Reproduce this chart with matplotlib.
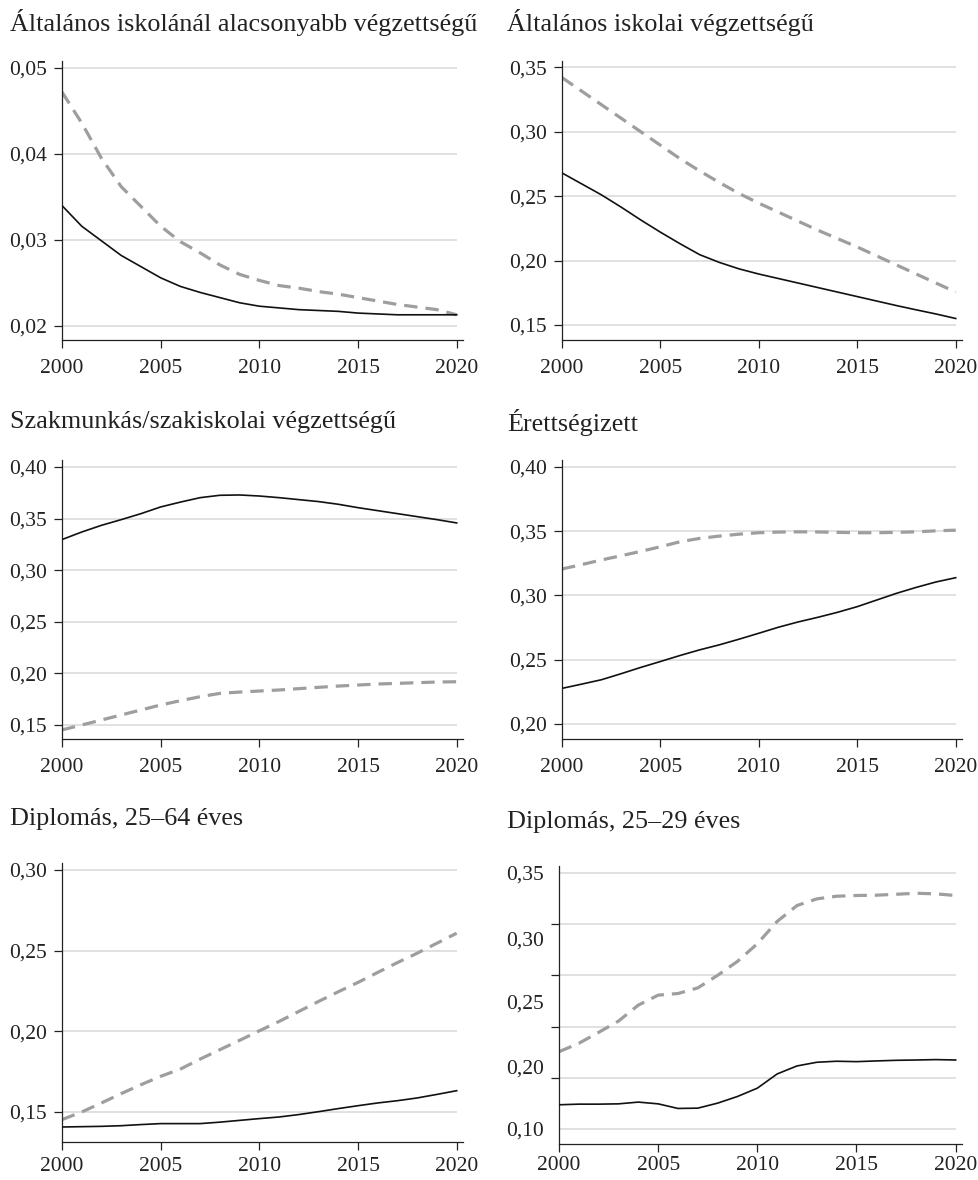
import matplotlib
matplotlib.use("Agg")
import matplotlib.pyplot as plt

plt.rcParams["font.family"] = ["Liberation Serif", "DejaVu Serif"]

years = list(range(2000, 2021))

titles = [
    "Általános iskolánál alacsonyabb végzettségű",
    "Általános iskolai végzettségű",
    "Szakmunkás/szakiskolai végzettségű",
    "Érettségizett",
    "Diplomás, 25–64 éves",
    "Diplomás, 25–29 éves",
]

# solid black series
solid_1 = [0.0340, 0.0316, 0.0299, 0.0282, 0.0269, 0.0256, 0.0246, 0.0239, 0.0233, 0.0227, 0.0223,
           0.0221, 0.0219, 0.0218, 0.0217, 0.0215, 0.0214, 0.0213, 0.0213, 0.0213, 0.0213]
solid_2 = [0.268, 0.2595, 0.251, 0.2415, 0.2315, 0.222, 0.213, 0.2045, 0.1985, 0.1935, 0.1895,
           0.186, 0.1825, 0.179, 0.1755, 0.172, 0.1685, 0.165, 0.1617, 0.1585, 0.155]
solid_3 = [0.3297, 0.337, 0.3435, 0.349, 0.3548, 0.3613, 0.366, 0.3703, 0.3726, 0.3729, 0.3719,
           0.3703, 0.3684, 0.3665, 0.3639, 0.3606, 0.3577, 0.3548, 0.3519, 0.349, 0.3458]
solid_4 = [0.2277, 0.231, 0.2344, 0.2391, 0.244, 0.2486, 0.2533, 0.2577, 0.2616, 0.266, 0.2706,
           0.2753, 0.2794, 0.283, 0.2869, 0.2913, 0.2965, 0.3017, 0.3063, 0.3105, 0.3138]
solid_5 = [0.1407, 0.1409, 0.1411, 0.1415, 0.1422, 0.1428, 0.1428, 0.1428, 0.1437, 0.1448, 0.1459,
           0.1469, 0.1484, 0.1502, 0.1521, 0.1539, 0.1556, 0.157, 0.1587, 0.1609, 0.1632]
solid_6 = [0.1237, 0.1243, 0.1243, 0.1246, 0.1263, 0.1246, 0.1201, 0.1204, 0.1253, 0.1318, 0.1399,
           0.1538, 0.1616, 0.1652, 0.1662, 0.1658, 0.1665, 0.1671, 0.1674, 0.1678, 0.1674]

# grey dashed series
dashed_1 = [0.0472, 0.0436, 0.0395, 0.0362, 0.0339, 0.0316, 0.0298, 0.0285, 0.0271, 0.0260, 0.0253,
            0.0247, 0.0244, 0.0240, 0.0237, 0.0233, 0.0229, 0.0225, 0.0222, 0.0219, 0.0213]
dashed_2 = [0.342, 0.3315, 0.321, 0.3105, 0.300, 0.2895, 0.279, 0.2695, 0.2605, 0.252, 0.2445,
            0.2375, 0.2305, 0.2235, 0.217, 0.2105, 0.2035, 0.1965, 0.1895, 0.1825, 0.1755]
dashed_3 = [0.1452, 0.150, 0.1548, 0.1597, 0.1645, 0.1694, 0.1735, 0.1774, 0.1806, 0.1819, 0.1829,
            0.1839, 0.1852, 0.1865, 0.1877, 0.1887, 0.1897, 0.1903, 0.191, 0.1916, 0.1919]
dashed_4 = [0.3206, 0.324, 0.3276, 0.3309, 0.3343, 0.3379, 0.3418, 0.3444, 0.3462, 0.3477, 0.3488,
            0.3493, 0.3495, 0.3494, 0.3491, 0.3488, 0.3488, 0.3491, 0.3495, 0.3503, 0.3508]
dashed_5 = [0.1453, 0.150, 0.1556, 0.1614, 0.1669, 0.1721, 0.1766, 0.1828, 0.1886, 0.1944, 0.2003,
            0.2061, 0.2123, 0.2185, 0.2245, 0.2303, 0.2365, 0.2426, 0.2484, 0.2546, 0.2608]
dashed_6 = [0.1755, 0.1837, 0.1944, 0.2054, 0.221, 0.2307, 0.2323, 0.2378, 0.2501, 0.2637, 0.2809,
            0.3027, 0.3182, 0.3247, 0.3273, 0.328, 0.3283, 0.3292, 0.3302, 0.3296, 0.328]

x_ticks = [2000, 2005, 2010, 2015, 2020]
x_labels = ["2000", "2005", "2010", "2015", "2020"]

y_ticks = [
    [0.02, 0.03, 0.04, 0.05],
    [0.15, 0.20, 0.25, 0.30, 0.35],
    [0.15, 0.20, 0.25, 0.30, 0.35, 0.40],
    [0.20, 0.25, 0.30, 0.35, 0.40],
    [0.15, 0.20, 0.25, 0.30],
    [0.10, 0.15, 0.20, 0.25, 0.30, 0.35],
]
y_labels = [
    ["0,02", "0,03", "0,04", "0,05"],
    ["0,15", "0,20", "0,25", "0,30", "0,35"],
    ["0,15", "0,20", "0,25", "0,30", "0,35", "0,40"],
    ["0,20", "0,25", "0,30", "0,35", "0,40"],
    ["0,15", "0,20", "0,25", "0,30"],
    None,
]
# last panel: label text sits apart from its tick marks
p6_label_pos = [0.10, 0.161, 0.2242, 0.2858, 0.35]
p6_labels = ["0,10", "0,20", "0,25", "0,30", "0,35"]

y_limits = [
    (0.01837, 0.05081),
    (0.1383, 0.3549),
    (0.1364, 0.4068),
    (0.1883, 0.4054),
    (0.1314, 0.3043),
    (0.0854, 0.3568),
]

solids = [solid_1, solid_2, solid_3, solid_4, solid_5, solid_6]
dashes = [dashed_1, dashed_2, dashed_3, dashed_4, dashed_5, dashed_6]

W, H = 979, 1180
fig = plt.figure(figsize=(W / 100, H / 100), dpi=100)

# axes boxes in pixels: left, right, top, bottom
boxes = [
    (62, 463, 61, 340),
    (562, 962, 61, 340),
    (62, 463, 460, 739),
    (562, 962, 460, 739),
    (62, 463, 863, 1142),
    (559, 962, 866, 1144),
]
title_pos = [(10, 23), (507, 23), (10, 422), (507, 422), (10, 819), (507, 822)]
x_label_pad = [8, 8, 8, 8, 5, 3]

GRID = "#d9d9d9"
DASH = "#9e9e9e"

for i in range(6):
    l, r, t, b = boxes[i]
    ax = fig.add_axes([l / W, 1 - b / H, (r - l) / W, (b - t) / H])
    ax.set_xlim(2000, 2020.32)
    ax.set_ylim(*y_limits[i])

    ax.hlines(y_ticks[i], 2000, 2020, color=GRID, lw=1.1, zorder=0)
    ax.plot(years, dashes[i], color=DASH, lw=2.3, dashes=(4.2, 2.5), zorder=2)
    ax.plot(years, solids[i], color="#111111", lw=1.2, zorder=3)

    for side in ("top", "right"):
        ax.spines[side].set_visible(False)
    for side in ("left", "bottom"):
        ax.spines[side].set_linewidth(0.9)
        ax.spines[side].set_color("#222222")

    ax.set_xticks(x_ticks)
    ax.set_xticklabels(x_labels)
    ax.tick_params(axis="x", length=6, width=0.9, pad=x_label_pad[i], labelsize=15.5,
                   colors="#222222")

    if y_labels[i] is not None:
        ax.set_yticks(y_ticks[i])
        ax.set_yticklabels(y_labels[i])
        ax.tick_params(axis="y", length=6, width=0.9, pad=5, labelsize=15.5, colors="#222222")
    else:
        ax.set_yticks(y_ticks[i], minor=True)
        ax.set_yticks(p6_label_pos)
        ax.set_yticklabels(p6_labels)
        ax.tick_params(axis="y", which="minor", length=6, width=0.9, colors="#222222")
        ax.tick_params(axis="y", which="major", length=0, pad=11, labelsize=15.5, colors="#222222")

    tx, ty = title_pos[i]
    fig.text(tx / W, 1 - ty / H, titles[i], fontsize=18.8, color="#222222",
             ha="left", va="center")

fig.savefig("out.png", dpi=100, facecolor="white")
